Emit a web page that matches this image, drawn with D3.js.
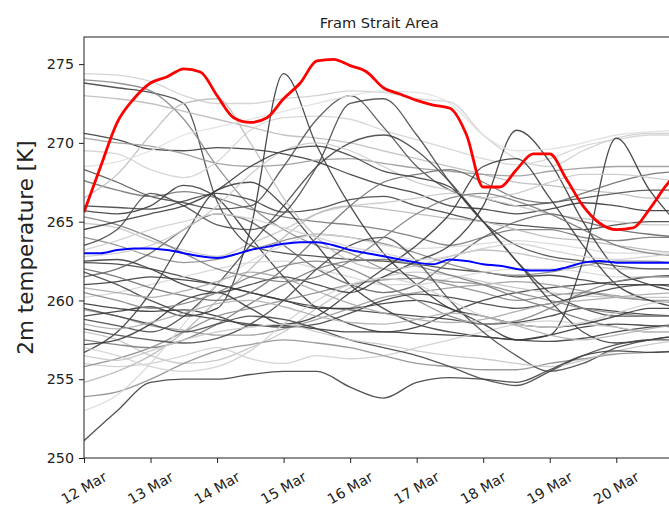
<!DOCTYPE html>
<html>
<head>
<meta charset="utf-8">
<script src="https://cdn.jsdelivr.net/npm/d3@7"></script>
<style>
  html, body { margin: 0; padding: 0; background: #fff; }
  svg { display: block; }
  text { font-family: "DejaVu Sans", sans-serif; fill: #222; }
</style>
</head>
<body>
<svg id="chart" width="669" height="508"></svg>
<script>
// ---------------- data ----------------
const chartTitle = "Fram Strait Area";
const yLabel = "2m temperature [K]";
const startDate = new Date(2000, 2, 12, 0, 0);   // 12 Mar 00:00
const endDate   = new Date(2000, 2, 20, 21, 0);  // last forecast step 20 Mar 21:00
const xTickLabels = ["12 Mar","13 Mar","14 Mar","15 Mar","16 Mar","17 Mar","18 Mar","19 Mar","20 Mar"];
const yTicks = [250, 255, 260, 265, 270, 275];

// 6-hourly highlighted series (12 Mar 00 .. 21 Mar 00)
const redSeries = [265.6,268.5,271.3,272.8,273.8,274.2,274.7,274.5,273.0,271.6,271.3,271.6,272.8,273.8,275.2,275.3,274.9,274.5,273.5,273.1,272.7,272.4,272.2,270.5,267.2,267.2,268.3,269.3,269.3,267.7,266.0,264.9,264.5,264.6,265.8,267.3,268.5];
const meanSeries = [263.0,263.0,263.2,263.3,263.3,263.2,263.0,262.8,262.7,262.9,263.2,263.4,263.6,263.7,263.7,263.5,263.2,263.0,262.8,262.6,262.4,262.3,262.6,262.5,262.3,262.2,262.0,261.9,261.9,262.1,262.4,262.5,262.4,262.4,262.4,262.4,262.4];

// 12-hourly ensemble members (12 Mar 00 .. 21 Mar 00)
const members = [
  [274.4,274.3,273.9,273.0,272.5,272.5,272.8,273.0,273.3,273.2,272.8,272.6,270.5,269.0,268.5,269.5,270.3,270.6,270.6],
  [273.8,273.5,273.2,272.5,266.3,263.5,263.0,262.8,262.6,262.5,262.3,262.0,261.8,261.5,261.6,261.3,261.0,261.0,260.8],
  [273.0,272.8,272.5,272.0,271.5,271.0,270.5,270.3,270.0,269.5,269.0,268.5,268.0,267.5,267.3,267.0,266.8,266.5,266.5],
  [274.0,273.8,273.3,271.5,268.5,266.0,264.5,263.5,263.0,262.0,261.5,261.0,260.5,260.0,260.3,260.5,260.2,260.0,259.8],
  [270.6,270.2,269.6,269.5,269.7,269.6,269.3,268.8,268.0,267.3,266.8,266.0,265.8,265.5,265.8,266.2,266.0,265.7,265.7],
  [270.3,270.0,269.8,269.3,268.7,268.5,268.6,268.9,269.0,268.7,268.4,268.2,268.0,267.9,268.2,268.4,268.5,268.5,268.5],
  [269.5,269.3,268.3,267.8,268.8,270.8,271.6,271.7,271.5,270.8,270.2,269.6,269.0,268.6,269.0,269.8,270.2,270.5,270.5],
  [268.3,267.5,266.6,266.2,265.8,266.0,268.5,271.5,273.0,271.0,268.5,267.0,266.5,266.0,266.2,266.5,266.8,267.0,267.0],
  [267.6,267.0,266.6,266.9,266.5,265.8,265.3,265.0,264.8,264.5,264.0,263.5,264.0,264.5,264.5,264.0,263.8,264.0,264.0],
  [266.0,265.9,265.8,266.3,266.8,266.4,265.6,265.8,266.4,266.6,266.0,265.5,265.0,264.8,264.6,264.5,264.8,265.0,265.0],
  [265.7,265.5,266.0,267.3,266.5,264.0,261.5,259.5,258.5,258.0,258.3,259.2,260.0,260.5,260.8,261.0,261.2,261.5,261.6],
  [264.9,264.6,263.8,263.2,262.8,263.6,264.5,265.5,266.0,266.2,266.5,266.8,266.5,266.0,265.5,265.2,265.0,264.8,264.8],
  [264.0,263.5,262.8,262.4,262.6,263.2,263.8,264.2,264.0,263.6,263.0,262.3,261.8,261.6,261.8,262.2,262.5,262.5,262.3],
  [262.4,262.3,262.0,261.5,261.0,260.5,260.0,259.6,259.4,259.2,259.0,258.8,258.5,258.6,259.0,259.5,259.3,259.1,259.0],
  [261.5,262.0,263.0,264.5,265.5,265.0,263.5,262.0,261.0,260.5,261.0,262.5,264.0,265.0,265.5,265.0,264.5,264.2,264.0],
  [260.2,260.5,261.0,261.5,262.0,262.4,262.5,262.0,261.5,261.0,261.0,261.4,261.8,262.0,262.0,261.8,261.5,261.5,261.5],
  [259.8,259.5,259.3,259.4,259.0,258.4,258.4,258.2,258.0,258.0,257.9,257.8,257.7,257.5,257.8,258.3,258.5,258.4,258.3],
  [259.4,259.0,258.4,258.1,257.8,257.8,258.2,258.8,259.5,260.2,260.5,260.8,261.0,261.2,261.0,260.6,260.3,260.0,260.0],
  [258.8,258.4,258.0,259.0,261.0,263.5,266.0,268.5,270.0,270.5,269.5,267.5,265.0,262.5,260.5,259.5,259.0,259.0,259.0],
  [258.0,257.5,256.5,256.0,256.2,257.0,258.0,259.5,260.8,261.5,261.8,261.6,261.2,260.8,260.5,260.3,260.2,260.2,260.2],
  [257.5,257.2,257.0,257.5,258.5,259.8,261.0,262.0,262.5,262.6,262.2,261.6,261.0,260.2,259.5,258.8,258.3,258.0,258.0],
  [256.7,258.0,260.5,264.0,267.0,267.5,266.0,263.5,261.0,259.5,258.5,258.0,257.7,257.5,257.4,257.6,258.0,258.3,258.5],
  [256.0,255.8,256.0,256.5,257.0,256.3,256.0,256.5,256.3,256.5,257.0,257.5,258.0,258.5,258.7,258.5,258.3,258.0,258.0],
  [255.8,256.3,257.0,258.0,259.0,259.5,260.0,260.5,261.0,261.3,261.4,261.2,261.0,260.5,260.0,259.5,259.2,259.0,259.0],
  [254.8,255.5,256.5,258.0,260.0,262.0,264.0,265.5,266.0,265.8,265.5,265.2,265.0,264.5,264.0,263.8,263.5,263.2,263.0],
  [253.9,254.2,255.0,256.0,256.8,257.2,257.5,257.3,257.0,256.5,256.0,255.8,255.6,255.6,256.0,256.3,256.6,256.7,256.8],
  [253.0,254.0,256.0,258.5,261.0,262.5,263.5,264.2,264.0,263.5,263.3,263.4,263.6,263.8,263.6,263.3,263.0,263.0,263.0],
  [259.0,259.3,259.6,259.0,259.5,264.5,274.4,269.8,266.0,263.0,261.0,259.5,259.0,258.5,258.3,258.5,259.0,259.5,259.5],
  [262.5,262.6,262.0,261.0,260.5,261.0,261.5,261.0,260.5,261.5,262.5,263.5,266.0,270.8,268.8,265.0,262.0,261.0,260.5],
  [261.0,261.2,261.5,261.3,261.0,260.5,260.0,259.5,259.5,259.8,260.0,259.5,258.5,257.5,257.8,262.5,270.3,267.0,264.5],
  [266.5,268.0,270.5,272.5,272.8,270.0,266.5,264.0,262.5,262.0,262.2,262.8,263.2,263.0,262.6,262.3,262.0,262.0,262.0],
  [263.5,264.5,266.8,266.0,264.8,264.5,265.5,268.5,272.5,272.8,270.5,267.5,265.0,263.5,262.8,262.5,262.2,262.0,262.0],
  [262.0,261.5,260.8,260.3,260.0,260.5,262.0,264.0,266.0,267.5,268.0,268.3,267.5,266.5,266.2,266.8,267.5,268.0,268.2],
  [268.5,268.8,269.5,270.5,271.0,271.5,272.0,272.5,273.0,273.3,273.2,272.5,270.5,269.5,269.6,270.0,270.5,270.7,270.8],
  [257.2,257.5,258.5,260.0,260.5,259.5,258.5,259.0,260.5,262.0,263.5,265.5,268.5,269.0,266.5,263.5,261.0,260.0,259.5],
  [260.5,260.0,259.5,259.8,260.5,261.5,262.2,262.5,262.0,261.0,260.0,259.0,258.5,258.7,259.5,260.5,261.2,261.5,261.5],
  [258.2,257.8,257.5,257.3,257.6,258.5,260.0,262.0,263.5,264.0,262.5,260.0,258.0,256.5,255.5,256.0,257.0,257.5,257.8],
  [262.8,263.0,263.5,264.5,266.0,268.0,269.5,270.0,269.5,268.5,267.5,267.0,266.5,266.8,267.5,268.0,268.0,267.8,267.5],
  [265.3,264.8,264.0,263.0,262.0,261.5,261.2,261.5,262.5,264.0,265.5,266.5,266.8,266.3,265.5,264.5,263.5,263.0,262.8],
  [261.8,261.0,260.0,259.2,258.8,258.5,258.3,258.5,259.2,260.0,260.4,260.2,259.8,259.5,259.8,260.3,260.8,261.0,261.0],
  [264.5,265.0,265.5,266.0,267.0,268.5,269.5,269.8,269.2,268.2,267.8,267.2,265.0,262.5,260.0,258.0,257.3,257.5,257.8],
  [257.0,256.5,255.8,255.5,255.8,256.8,258.5,260.0,261.0,261.4,261.0,260.0,259.0,258.5,258.3,258.6,259.2,259.8,260.0],
  [259.5,259.0,258.5,258.0,258.5,259.0,258.8,258.2,257.5,257.0,256.5,255.8,255.0,254.6,255.5,256.5,257.2,257.5,257.5],
  [256.5,256.2,256.8,257.5,258.0,258.3,258.5,258.0,257.5,257.2,256.8,256.5,256.3,256.0,255.8,256.2,256.8,257.2,257.5],
  [258.5,258.2,258.6,259.2,259.8,260.0,259.6,259.0,258.6,258.5,258.8,259.2,259.0,258.4,257.8,257.5,257.8,258.2,258.5],
  [263.2,263.8,264.5,265.0,265.5,265.2,264.6,264.0,263.4,263.0,262.6,262.8,263.3,263.6,263.2,262.8,262.6,262.8,263.0],
  [260.8,260.5,260.2,260.6,261.2,261.8,261.4,260.6,259.8,259.2,258.8,258.6,258.8,259.3,259.8,260.0,260.2,260.4,260.5],
  [251.1,253.0,254.8,255.0,255.0,255.3,255.5,255.5,254.5,253.8,254.8,255.1,255.0,254.8,255.6,256.5,256.8,256.7,256.8]
];
// grey shade of each member line (style)
const memberShades = ["#cfcfcf","#444","#bdbdbd","#8a8a8a","#3a3a3a","#9a9a9a","#d4d4d4","#505050","#777","#444",
  "#3c3c3c","#c8c8c8","#8a8a8a","#404040","#666","#d6d6d6","#353535","#9a9a9a","#454545","#c4c4c4",
  "#7a7a7a","#3e3e3e","#cfcfcf","#8c8c8c","#b8b8b8","#909090","#d8d8d8","#3a3a3a","#3c3c3c","#383838",
  "#bdbdbd","#4a4a4a","#6e6e6e","#e0e0e0","#383838","#858585","#4d4d4d","#cacaca","#7c7c7c","#424242",
  "#3b3b3b","#d2d2d2","#474747","#c6c6c6","#b0b0b0","#d0d0d0","#a8a8a8","#404040"];

// ---------------- layout ----------------
const svg = d3.select("#chart");
const plot = { left: 84, top: 37, right: 674.5, bottom: 458 };

const x = d3.scaleTime().domain([startDate, endDate]).range([plot.left, plot.right]);
const y = d3.scaleLinear().domain([250, 276.72]).range([plot.bottom, plot.top]);

const timeAt = (stepHours, i) => new Date(startDate.getTime() + i * stepHours * 3600e3);

svg.append("defs").append("clipPath").attr("id", "clip")
  .append("rect").attr("x", plot.left).attr("y", plot.top)
  .attr("width", plot.right - plot.left).attr("height", plot.bottom - plot.top);

const g = svg.append("g").attr("clip-path", "url(#clip)");

const lineGen = (step) => d3.line()
  .x((d, i) => x(timeAt(step, i)))
  .y(d => y(d))
  .curve(d3.curveMonotoneX);

g.selectAll("path.member").data(members).enter().append("path")
  .attr("class", "member")
  .attr("d", lineGen(12))
  .attr("fill", "none")
  .attr("stroke", (d, i) => memberShades[i])
  .attr("stroke-width", 1.3)
  .attr("stroke-opacity", 0.9)
  .attr("stroke-linejoin", "round");

g.append("path").attr("d", lineGen(6)(meanSeries))
  .attr("fill", "none").attr("stroke", "#0000ff").attr("stroke-width", 2);

g.append("path").attr("d", lineGen(6)(redSeries))
  .attr("fill", "none").attr("stroke", "#ff0000").attr("stroke-width", 2.8)
  .attr("stroke-linejoin", "round");

// ---------------- axes ----------------
const xTickDates = xTickLabels.map((_, i) => timeAt(24, i));
const xAxis = d3.axisBottom(x).tickValues(xTickDates).tickSize(5).tickFormat("");
const gx = svg.append("g").attr("transform", `translate(0,${plot.bottom})`).call(xAxis);
gx.select(".domain").remove();
gx.selectAll(".tick line").attr("stroke", "#222");

svg.selectAll("text.xlab").data(xTickLabels).enter().append("text")
  .attr("class", "xlab")
  .attr("transform", (d, i) => `translate(${x(xTickDates[i])},${plot.bottom + 30}) rotate(-30)`)
  .attr("text-anchor", "middle")
  .attr("dy", "0.35em")
  .style("font-size", "14.3px")
  .text(d => d);

const yAxis = d3.axisLeft(y).tickValues(yTicks).tickSize(5).tickPadding(5).tickFormat(d3.format("d"));
const gy = svg.append("g").attr("transform", `translate(${plot.left},0)`).call(yAxis);
gy.select(".domain").remove();
gy.selectAll(".tick line").attr("stroke", "#222");
gy.selectAll(".tick text").style("font-size", "14.3px").style("font-family", "DejaVu Sans, sans-serif").attr("fill", "#222");

// frame (spines)
svg.append("rect")
  .attr("x", plot.left).attr("y", plot.top)
  .attr("width", plot.right - plot.left).attr("height", plot.bottom - plot.top)
  .attr("fill", "none").attr("stroke", "#222").attr("stroke-width", 1);

// title & label
svg.append("text").attr("x", (plot.left + plot.right) / 2).attr("y", 28)
  .attr("text-anchor", "middle").style("font-size", "14.6px").text(chartTitle);

svg.append("text")
  .attr("transform", `translate(33,${(plot.top + plot.bottom) / 2}) rotate(-90)`)
  .attr("text-anchor", "middle")
  .style("font-size", "21.5px")
  .text(yLabel);
</script>
</body>
</html>
